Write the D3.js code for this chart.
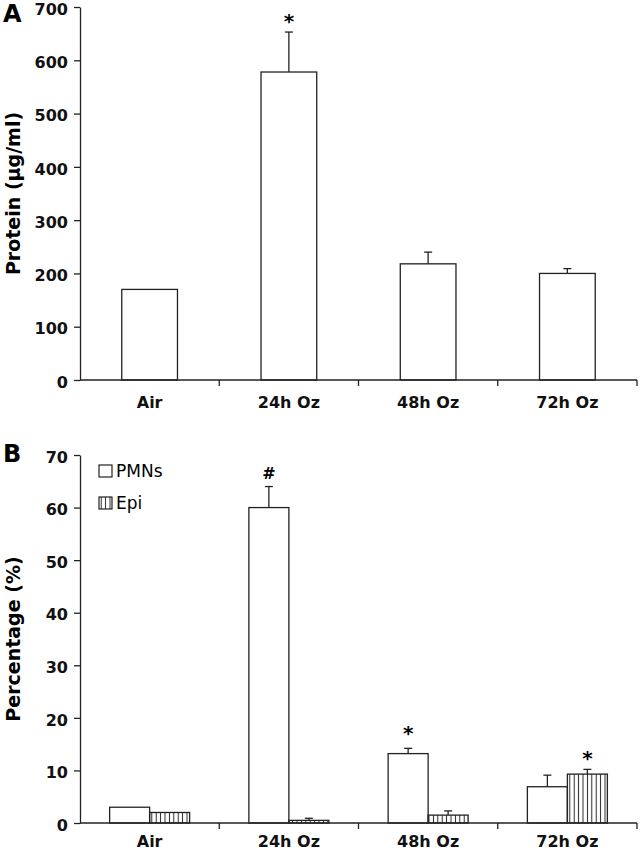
<!DOCTYPE html>
<html>
<head>
	<title> protein and cells chart </title>
	<script src="https://d3js.org/d3.v7.min.js"></script>
	<style>
		body { margin: 0; background: white; }
		text { font-family: "DejaVu Sans", Verdana, sans-serif; }
	</style>
</head>
<body>
	<svg id="chart"></svg>
	<script type="text/javascript">

		// values
		var groups = ["Air", "24h Oz", "48h Oz", "72h Oz"];

		var protein = [170, 578, 218, 200];
		var proteinErr = [0, 75, 22, 9];
		var proteinMark = ["", "*", "", ""];
		var proteinTicks = [0, 100, 200, 300, 400, 500, 600, 700];

		var series = ["PMNs", "Epi"];
		var pmns = [3, 60, 13.2, 6.9];
		var pmnsErr = [0, 4, 1, 2.2];
		var pmnsMark = ["", "#", "*", ""];
		var epi = [2, 0.5, 1.5, 9.3];
		var epiErr = [0, 0.4, 0.8, 0.9];
		var epiMark = ["", "", "", "*"];
		var pctTicks = [0, 10, 20, 30, 40, 50, 60, 70];

		var w = 640;
		var h = 852;
		const left_border = 80;
		const right_border = 3;

		const svg = d3.select("#chart").attr("width", w).attr("height", h);

		// hatch for the Epi bars
		svg.append("defs").append("pattern")
			.attr("id", "vlines").attr("patternUnits", "userSpaceOnUse")
			.attr("width", 4.4).attr("height", 10)
			.append("line").attr("x1", 2.2).attr("x2", 2.2).attr("y1", 0).attr("y2", 10)
			.attr("stroke", "#222").attr("stroke-width", 1);

		var x_scale = d3.scaleBand().domain(groups).range([left_border, w - right_border]);

		function axes(g, y_scale, ticks, zeroY, pad, title, letter, letterY) {
			var xaxis = d3.axisBottom(x_scale).tickSize(0).tickPadding(pad);
			var gx = g.append("g").attr("transform", "translate(0," + zeroY + ")").call(xaxis);
			gx.select(".domain").attr("stroke", "#222").attr("stroke-width", 1.3).attr("d", "M" + left_border + ",0H" + (w - right_border));
			gx.selectAll("text").attr("font-size", 16).attr("font-weight", "bold").attr("fill", "#111");
			// ticks between the groups
			var edges = groups.map(function(d){ return x_scale(d) + x_scale.bandwidth(); });
			gx.selectAll("line.sep").data(edges).join("line").attr("class", "sep")
				.attr("x1", function(d){ return d; }).attr("x2", function(d){ return d; })
				.attr("y1", 0).attr("y2", 6).attr("stroke", "#222").attr("stroke-width", 1.3);

			var yaxis = d3.axisLeft(y_scale).tickValues(ticks).tickSize(6).tickSizeOuter(0).tickPadding(6);
			var gy = g.append("g").attr("transform", "translate(" + left_border + ",0)").call(yaxis);
			gy.select(".domain").attr("stroke", "#222").attr("stroke-width", 1.3);
			gy.selectAll(".tick line").attr("stroke", "#222").attr("stroke-width", 1.3);
			gy.selectAll("text").attr("font-size", 16).attr("font-weight", "bold").attr("fill", "#111").attr("dy", "0.45em");

			var r = y_scale.range();
			g.append("text").attr("transform", "translate(20," + ((r[0] + r[1]) / 2) + ") rotate(-90)")
				.attr("text-anchor", "middle").attr("font-size", 19).attr("font-weight", "bold").text(title);
			g.append("text").attr("x", 3).attr("y", letterY).attr("font-size", 24).attr("font-weight", "bold").text(letter);
		}

		function errorBars(g, xs, vals, errs, y_scale) {
			var cap = 4;
			vals.forEach(function(v, i) {
				if (errs[i] <= 0) return;
				g.append("line").attr("x1", xs[i]).attr("x2", xs[i])
					.attr("y1", y_scale(v)).attr("y2", y_scale(v + errs[i])).attr("stroke", "#222").attr("stroke-width", 1.3);
				g.append("line").attr("x1", xs[i] - cap).attr("x2", xs[i] + cap)
					.attr("y1", y_scale(v + errs[i])).attr("y2", y_scale(v + errs[i])).attr("stroke", "#222").attr("stroke-width", 1.3);
			});
		}

		function marks(g, xs, vals, errs, labels, y_scale, gap) {
			labels.forEach(function(m, i) {
				if (!m) return;
				g.append("text").attr("x", xs[i]).attr("y", y_scale(vals[i] + errs[i]) - gap)
					.attr("text-anchor", "middle").attr("font-size", m == "#" ? 16 : 20).attr("font-weight", "bold").text(m);
			});
		}

		/* ---- panel A ---- */
		var yA = d3.scaleLinear().domain([0, 700]).range([380, 7]);
		var gA = svg.append("g");
		var barW = x_scale.bandwidth() * 0.4;
		var centers = groups.map(function(d){ return x_scale(d) + x_scale.bandwidth() / 2; });

		gA.selectAll("rect").data(protein).join("rect")
			.attr("x", function(d, i){ return centers[i] - barW / 2; })
			.attr("y", function(d){ return yA(d); })
			.attr("width", barW)
			.attr("height", function(d){ return yA(0) - yA(d); })
			.attr("fill", "white").attr("stroke", "#222").attr("stroke-width", 1.3);
		errorBars(gA, centers, protein, proteinErr, yA);
		marks(gA, centers, protein, proteinErr, proteinMark, yA, 4);
		axes(gA, yA, proteinTicks, 380, 17, "Protein (µg/ml)", "A", 22);

		/* ---- panel B ---- */
		var yB = d3.scaleLinear().domain([0, 70]).range([823, 455]);
		var gB = svg.append("g");
		var subW = 40;
		var pmnX = centers.map(function(c){ return c - subW / 2; });
		var epiX = centers.map(function(c){ return c + subW / 2; });

		gB.selectAll("rect.pmn").data(pmns).join("rect").attr("class", "pmn")
			.attr("x", function(d, i){ return pmnX[i] - subW / 2; })
			.attr("y", function(d){ return yB(d); })
			.attr("width", subW)
			.attr("height", function(d){ return yB(0) - yB(d); })
			.attr("fill", "white").attr("stroke", "#222").attr("stroke-width", 1.3);
		gB.selectAll("rect.epi").data(epi).join("rect").attr("class", "epi")
			.attr("x", function(d, i){ return epiX[i] - subW / 2; })
			.attr("y", function(d){ return yB(d); })
			.attr("width", subW)
			.attr("height", function(d){ return yB(0) - yB(d); })
			.attr("fill", "url(#vlines)").attr("stroke", "#222").attr("stroke-width", 1.3);
		errorBars(gB, pmnX, pmns, pmnsErr, yB);
		errorBars(gB, epiX, epi, epiErr, yB);
		marks(gB, pmnX, pmns, pmnsErr, pmnsMark, yB, 8);
		marks(gB, epiX, epi, epiErr, epiMark, yB, 4);
		axes(gB, yB, pctTicks, 823, 13, "Percentage (%)", "B", 462);

		// legend
		var legend = gB.selectAll("g.leg").data(series).join("g").attr("class", "leg")
			.attr("transform", function(d, i){ return "translate(99," + (465 + i * 32) + ")"; });
		legend.append("rect").attr("width", 13).attr("height", 12)
			.attr("fill", function(d, i){ return i == 0 ? "white" : "url(#vlines)"; })
			.attr("stroke", "#222").attr("stroke-width", 1.2);
		legend.append("text").attr("x", 17).attr("y", 12).attr("font-size", 17).text(function(d){ return d; });

	</script>
</body>
</html>
